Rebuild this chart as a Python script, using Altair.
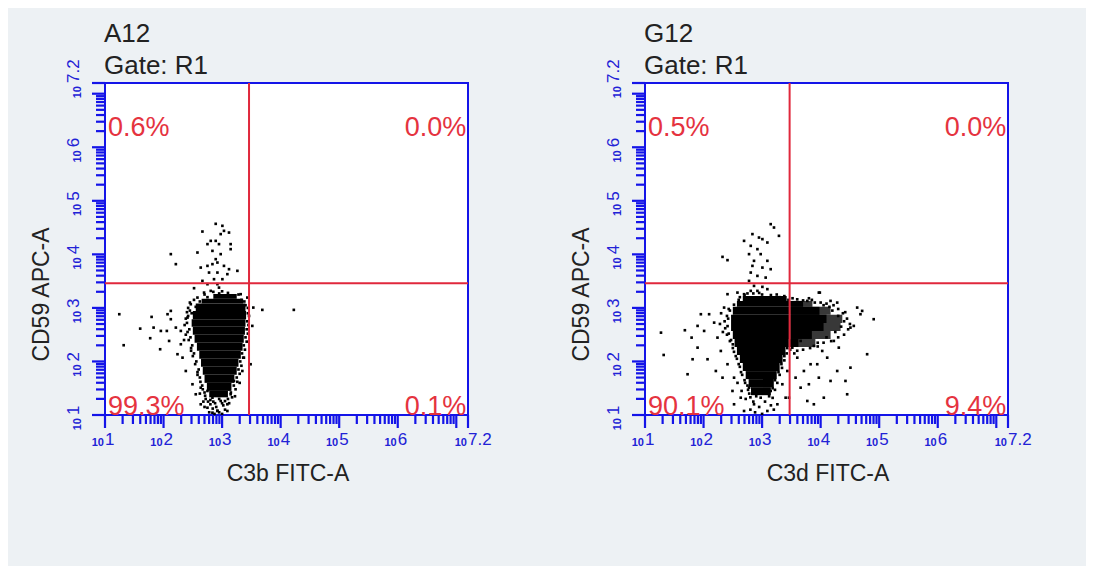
import altair as alt
import pandas as pd
import numpy as np

BG = "#edf1f4"
BLUE = "#1414e8"
LBLUE = "#2222d6"
RED = "#e0283c"
PRED = "#e5333f"
DARK = "#222222"
FONT = "Liberation Sans"

W, H = 363, 332
DOMAIN = [1, 7.2]

# ---- text content ----
sample_names = ["A12", "G12"]
gate_label = "Gate: R1"
x_titles = ["C3b FITC-A", "C3d FITC-A"]
y_title = "CD59 APC-A"
pct_ul = ["0.6%", "0.5%"]
pct_ur = ["0.0%", "0.0%"]
pct_ll = ["99.3%", "90.1%"]
pct_lr = ["0.1%", "9.4%"]

# quadrant gates (log10 units)
gate_x = [3.46, 3.47]
gate_y = [3.46, 3.46]

# axis scaffolding (log10 decades)
decades = [1, 2, 3, 4, 5, 6, 7]
minor_mult = [2, 3, 4, 5, 6, 7, 8, 9]
axis_end = 7.2
label_pos = [1, 2, 3, 4, 5, 6, 7.2]
label_exp = ["1", "2", "3", "4", "5", "6", "7.2"]

# ---- dense cores (rows: y0, y1, x0, x1 in log10 units) ----
core1 = [
    (3.17, 3.26, 2.85, 3.25),
    (3.08, 3.17, 2.65, 3.36),
    (2.94, 3.08, 2.55, 3.40),
    (2.79, 2.94, 2.50, 3.41),
    (2.65, 2.79, 2.48, 3.40),
    (2.50, 2.65, 2.50, 3.39),
    (2.35, 2.50, 2.53, 3.37),
    (2.20, 2.35, 2.57, 3.35),
    (2.05, 2.20, 2.61, 3.32),
    (1.90, 2.05, 2.64, 3.28),
    (1.75, 1.90, 2.67, 3.25),
    (1.60, 1.75, 2.70, 3.21),
    (1.45, 1.60, 2.74, 3.16),
    (1.33, 1.45, 2.78, 3.10),
]
core2 = [
    (3.13, 3.22, 2.67, 3.42),
    (3.02, 3.13, 2.57, 3.49),
    (2.87, 3.02, 2.50, 3.49),
    (2.72, 2.87, 2.47, 3.49),
    (2.57, 2.72, 2.47, 3.49),
    (2.42, 2.57, 2.50, 3.49),
    (2.27, 2.42, 2.53, 3.45),
    (2.12, 2.27, 2.57, 3.40),
    (1.97, 2.12, 2.62, 3.35),
    (1.82, 1.97, 2.67, 3.30),
    (1.67, 1.82, 2.72, 3.25),
    (1.52, 1.67, 2.77, 3.20),
    (1.37, 1.52, 2.81, 3.15),
]
lobe2_light = [
    (3.02, 3.13, 3.49, 3.86),
    (2.87, 3.02, 3.49, 4.17),
    (2.72, 2.87, 3.49, 4.37),
    (2.57, 2.72, 3.49, 4.34),
    (2.42, 2.57, 3.49, 4.17),
    (2.27, 2.42, 3.45, 3.91),
]
lobe2_dense = [
    (3.02, 3.13, 3.49, 3.70),
    (2.87, 3.02, 3.49, 3.98),
    (2.72, 2.87, 3.49, 4.10),
    (2.57, 2.72, 3.49, 4.05),
    (2.42, 2.57, 3.49, 3.85),
    (2.27, 2.42, 3.45, 3.62),
]

# ---- individual events (x, y in log10 units) ----
dots1 = [
    (2.891, 4.570), (3.005, 4.533), (3.032, 4.439), (2.664, 4.426), (2.976, 4.378),
    (3.118, 4.407), (2.806, 4.252), (2.891, 4.252), (2.750, 4.191), (2.947, 4.191),
    (3.146, 4.191), (3.146, 4.097), (2.835, 4.065), (2.976, 4.004), (2.579, 4.034),
    (2.124, 4.004), (2.210, 3.817), (2.891, 3.910), (2.920, 3.847), (2.835, 3.817),
    (2.750, 3.785), (3.032, 3.785), (3.118, 3.723), (3.261, 3.692), (2.777, 3.660),
    (2.635, 3.753), (2.920, 3.660), (3.090, 3.630), (2.862, 3.536), (3.005, 3.536),
    (2.664, 3.505), (2.920, 3.443), (2.750, 3.443), (2.521, 3.368), (2.947, 3.379),
    (2.806, 3.318),
    (1.244, 2.882), (1.319, 2.303), (1.601, 2.613), (1.796, 2.832), (1.772, 2.434),
    (1.830, 2.632), (1.942, 2.228), (1.954, 2.570), (2.056, 2.570), (2.068, 2.882),
    (2.124, 2.789), (2.095, 2.383), (2.210, 2.632), (2.238, 2.135), (2.124, 2.944),
    (2.295, 2.321), (2.324, 2.071), (2.380, 1.822), (2.494, 1.574), (2.550, 1.387),
    (2.635, 1.200), (2.750, 1.136), (2.920, 1.075), (3.090, 1.075), (2.976, 1.262),
    (2.835, 1.323), (3.146, 1.387), (3.203, 1.636), (3.346, 1.822), (3.373, 2.071),
    (3.487, 1.948), (3.516, 2.664), (3.533, 3.006), (3.687, 2.963), (4.225, 2.963),
    (3.431, 3.193), (3.317, 3.256), (2.692, 3.286), (2.579, 3.193), (2.465, 3.069),
    (2.409, 2.819), (2.295, 2.570), (2.635, 1.510), (2.750, 1.449), (3.090, 1.200),
    (2.835, 1.043),
    (2.45, 2.95), (2.42, 2.85), (2.40, 2.72), (2.44, 2.60), (2.46, 2.45), (2.49, 2.30),
    (2.52, 2.15), (2.56, 2.00), (2.60, 1.85), (2.62, 1.70), (2.66, 1.55), (2.70, 1.42),
    (2.72, 1.30), (2.68, 1.25), (2.80, 1.20), (2.90, 1.15), (3.00, 1.22), (3.05, 1.10),
    (2.95, 1.05), (2.85, 1.25), (3.10, 1.30), (3.15, 1.42), (3.20, 1.55), (3.25, 1.70),
    (3.28, 1.85), (3.31, 2.00), (3.34, 2.15), (3.37, 2.30), (3.40, 2.45), (3.42, 2.60),
    (3.43, 2.75), (3.44, 2.90), (3.40, 3.05), (3.33, 3.15), (3.20, 3.22), (3.10, 3.28),
    (2.95, 3.27), (2.75, 3.20), (2.62, 3.12), (2.55, 3.02), (2.48, 2.90), (2.38, 2.50),
    (2.35, 2.40), (2.58, 1.75), (2.62, 1.40), (3.22, 1.35), (3.30, 1.60), (2.47, 2.20),
    (2.80, 1.28), (2.88, 1.22), (2.95, 1.30), (3.02, 1.18), (2.84, 1.12), (2.92, 1.08),
    (3.00, 1.02), (2.78, 1.05), (3.05, 1.26), (2.70, 1.15), (2.96, 1.38), (2.87, 1.02),
    (2.42, 3.00), (2.45, 3.10), (2.52, 3.15), (2.40, 2.92), (2.38, 2.80), (2.36, 2.68),
    (2.41, 2.55), (2.43, 2.40), (2.47, 2.25), (2.50, 2.10), (2.54, 1.95), (2.58, 1.80),
    (2.63, 1.62), (2.67, 1.48), (2.71, 1.36), (2.76, 1.25), (3.12, 1.22), (3.17, 1.33),
    (3.23, 1.48), (3.26, 1.62), (3.30, 1.77), (3.33, 1.92), (3.36, 2.07), (3.39, 2.22),
    (3.42, 2.37), (3.44, 2.52), (3.45, 2.68), (3.46, 2.85), (3.44, 3.00), (3.38, 3.12),
    (3.28, 3.25), (2.85, 3.30), (3.00, 3.31), (2.70, 3.25),
]
dots2 = [
    (3.147, 4.564), (3.288, 4.346), (3.203, 4.501), (2.835, 4.378), (2.947, 4.314),
    (3.005, 4.284), (2.692, 4.252), (3.090, 4.221), (2.806, 4.159), (2.920, 4.097),
    (2.976, 4.004), (2.324, 3.953), (2.409, 3.892), (2.777, 4.004), (2.862, 3.879),
    (3.090, 3.879), (2.835, 3.785), (3.005, 3.753), (3.147, 3.723), (2.806, 3.660),
    (2.920, 3.598), (3.061, 3.566), (2.777, 3.505), (2.862, 3.411), (3.005, 3.393),
    (2.806, 3.318), (2.692, 3.256), (2.920, 3.318), (3.090, 3.350), (3.986, 3.286),
    (3.772, 3.131), (4.169, 3.131), (4.283, 3.099), (4.624, 3.006), (4.680, 2.882),
    (4.906, 2.789), (4.509, 2.632), (4.794, 2.135),
    (1.273, 2.538), (1.319, 2.121), (1.681, 2.583), (1.727, 1.761), (1.796, 2.445),
    (1.813, 2.041), (1.898, 2.664), (1.898, 2.258), (1.954, 2.882), (2.010, 2.570),
    (2.068, 2.041), (2.095, 2.882), (2.181, 2.725), (2.210, 1.822), (2.238, 2.445),
    (2.295, 2.196), (2.324, 1.697), (2.351, 3.006), (2.409, 3.256), (2.409, 1.948),
    (2.494, 1.449), (2.521, 1.697), (2.579, 3.286), (2.521, 1.200), (2.635, 1.323),
    (2.692, 1.075), (2.777, 1.510), (2.862, 1.200), (2.976, 1.323), (3.090, 1.075),
    (3.147, 1.449), (3.261, 1.200), (3.346, 1.574), (3.402, 1.323),
    (3.516, 2.258), (3.601, 2.071), (3.714, 1.822), (3.799, 1.574), (3.884, 1.200),
    (3.772, 1.262), (3.658, 1.510), (3.942, 1.948), (4.027, 2.196), (4.112, 2.071),
    (4.054, 1.323), (4.225, 2.383), (4.283, 1.822), (4.424, 1.636), (4.453, 1.387),
    (4.310, 2.258), (4.509, 1.884), (4.709, 2.944), (4.566, 2.664), (3.572, 1.697),
    (3.828, 1.948), (3.969, 1.697), (4.169, 1.636), (3.658, 2.383), (3.884, 2.290),
    (3.431, 1.822), (3.458, 1.323), (3.772, 2.570), (3.969, 3.286),
    (4.40, 2.75), (4.30, 2.85), (4.20, 2.95), (4.35, 2.65), (4.25, 2.55), (4.10, 2.45),
    (3.95, 2.35), (4.45, 2.80), (4.50, 2.70), (4.05, 3.05), (3.90, 3.10), (3.80, 3.18),
    (4.15, 3.02), (4.38, 2.90),
    (2.45, 2.95), (2.40, 2.85), (2.36, 2.75), (2.37, 2.62), (2.40, 2.50), (2.45, 2.38),
    (2.50, 2.25), (2.55, 2.10), (2.60, 1.95), (2.64, 1.80), (2.70, 1.65), (2.75, 1.55),
    (2.78, 1.40), (2.72, 1.30), (2.85, 1.25), (2.95, 1.15), (3.05, 1.25), (3.12, 1.35),
    (3.18, 1.50), (3.22, 1.65), (3.28, 1.80), (3.33, 1.95), (3.38, 2.10), (3.43, 2.25),
    (2.60, 3.15), (2.70, 3.24), (2.85, 3.27), (3.00, 3.25), (3.15, 3.24), (3.30, 3.20),
    (3.45, 3.15), (2.52, 3.06), (2.30, 2.90), (2.28, 2.70), (2.33, 2.55), (2.88, 1.05),
    (3.00, 1.02), (2.80, 1.10), (3.20, 1.10), (3.08, 1.45), (2.90, 1.35), (3.15, 1.18),
    (2.65, 1.45), (2.58, 1.60),
    (2.43, 2.98), (2.42, 2.80), (2.41, 2.66), (2.43, 2.52), (2.47, 2.40), (2.50, 2.32),
    (2.52, 2.18), (2.57, 2.05), (2.62, 1.90), (2.66, 1.75), (2.71, 1.60), (2.76, 1.47),
    (2.80, 1.33), (3.18, 1.32), (3.22, 1.47), (3.26, 1.60), (3.30, 1.75), (3.34, 1.88),
    (3.38, 2.02), (3.42, 2.15), (3.48, 2.22), (2.62, 3.20), (2.75, 3.27), (2.95, 3.28),
    (3.25, 3.25), (3.38, 3.22), (3.52, 3.18), (3.60, 3.16), (3.70, 3.14), (3.85, 3.15),
    (4.00, 3.10), (4.10, 3.08), (4.22, 3.05), (4.30, 2.98), (4.42, 2.92), (4.47, 2.60),
    (4.40, 2.50), (4.30, 2.45), (4.18, 2.38), (4.05, 2.35), (3.95, 2.28), (3.82, 2.25),
    (3.70, 2.22), (3.60, 2.20), (3.55, 2.15),
]

# ---- tables ----
major_ticks = pd.DataFrame({"t": decades + [axis_end]})
minor_ticks = pd.DataFrame({"t": [d + np.log10(m) for d in decades for m in minor_mult
                                  if d + np.log10(m) <= axis_end]})
labels_df = pd.DataFrame({"v": label_pos, "e": label_exp})
one_row = pd.DataFrame({"k": [0]})


def rows_df(rows):
    return pd.DataFrame(rows, columns=["y0", "y1", "x0", "x1"])


def dots_df(pts):
    return pd.DataFrame(pts, columns=["x", "y"])


def panel(i, core, dots, lobe_light=None, lobe_dense=None, pad_rect=None):
    xs = alt.Scale(domain=DOMAIN, nice=False, zero=False)
    ys = alt.Scale(domain=DOMAIN, nice=False, zero=False)
    ax = alt.Axis(title=x_titles[i], labels=False, ticks=False, domain=False, grid=False,
                  titleFont=FONT, titleFontSize=23, titleFontWeight="normal",
                  titleColor=DARK, titleX=W / 2 + 1, titleY=65,
                  titleAlign="center", titleBaseline="alphabetic")
    ay = alt.Axis(title=y_title, labels=False, ticks=False, domain=False, grid=False,
                  titleFont=FONT, titleFontSize=23, titleFontWeight="normal",
                  titleColor=DARK, titleX=-64, titleY=211, titleAngle=270,
                  titleAlign="center", titleBaseline="middle")

    def X(f):
        return alt.X(f, type="quantitative", scale=xs, axis=ax)

    def Y(f):
        return alt.Y(f, type="quantitative", scale=ys, axis=ay)

    layers = []
    if pad_rect is not None:
        x0, x1, y0, y1 = pad_rect
        layers.append(alt.Chart(one_row).mark_rect(color=BG).encode(
            x=alt.value(x0), x2=alt.value(x1), y=alt.value(y0), y2=alt.value(y1)))

    layers.append(alt.Chart(rows_df(core)).mark_rect(color="black").encode(
        x=X("x0"), x2="x1", y=Y("y0"), y2="y1"))
    if lobe_light is not None:
        layers.append(alt.Chart(rows_df(lobe_light)).mark_rect(color="black", opacity=0.78).encode(
            x=X("x0"), x2="x1", y=Y("y0"), y2="y1"))
    if lobe_dense is not None:
        layers.append(alt.Chart(rows_df(lobe_dense)).mark_rect(color="black").encode(
            x=X("x0"), x2="x1", y=Y("y0"), y2="y1"))
    layers.append(alt.Chart(dots_df(dots)).mark_square(size=7, color="black", opacity=1).encode(
        x=X("x"), y=Y("y")))

    # quadrant gates
    layers.append(alt.Chart(pd.DataFrame({"gx": [gate_x[i]]})).mark_rule(
        color=RED, strokeWidth=2).encode(x=X("gx")))
    layers.append(alt.Chart(pd.DataFrame({"gy": [gate_y[i]]})).mark_rule(
        color=RED, strokeWidth=2).encode(y=Y("gy")))

    # quadrant percentages
    left_pct = pd.DataFrame({"x": [1.05, 1.05], "y": [6.21, 1.0], "t": [pct_ul[i], pct_ll[i]]})
    right_pct = pd.DataFrame({"x": [7.17, 7.17], "y": [6.21, 1.0], "t": [pct_ur[i], pct_lr[i]]})
    layers.append(alt.Chart(left_pct).mark_text(
        align="left", baseline="alphabetic", font=FONT, fontSize=27, color=PRED).encode(
        x=X("x"), y=Y("y"), text="t:N"))
    layers.append(alt.Chart(right_pct).mark_text(
        align="right", baseline="alphabetic", font=FONT, fontSize=27, color=PRED).encode(
        x=X("x"), y=Y("y"), text="t:N"))

    # axis ticks (drawn outside the plot area)
    layers.append(alt.Chart(major_ticks).mark_rule(color=BLUE, strokeWidth=2.2).encode(
        x=X("t"), y=alt.value(H), y2=alt.value(H + 13)))
    layers.append(alt.Chart(minor_ticks).mark_rule(color=BLUE, strokeWidth=2.2).encode(
        x=X("t"), y=alt.value(H), y2=alt.value(H + 9)))
    layers.append(alt.Chart(major_ticks).mark_rule(color=BLUE, strokeWidth=2.2).encode(
        y=Y("t"), x=alt.value(0), x2=alt.value(-13)))
    layers.append(alt.Chart(minor_ticks).mark_rule(color=BLUE, strokeWidth=2.2).encode(
        y=Y("t"), x=alt.value(0), x2=alt.value(-9)))

    # tick labels: small "10" + large exponent
    layers.append(alt.Chart(labels_df).mark_text(
        align="right", baseline="alphabetic", dx=-1, font=FONT, fontSize=11,
        fontWeight="bold", color=LBLUE).encode(
        x=X("v"), y=alt.value(H + 31), text=alt.value("10")))
    layers.append(alt.Chart(labels_df).mark_text(
        align="left", baseline="alphabetic", dx=0, dy=-1, font=FONT, fontSize=17,
        color=LBLUE).encode(
        x=X("v"), y=alt.value(H + 31), text="e:N"))
    layers.append(alt.Chart(labels_df).mark_text(
        angle=270, align="right", baseline="alphabetic", dx=-3, font=FONT, fontSize=11,
        fontWeight="bold", color=LBLUE).encode(
        y=Y("v"), x=alt.value(-24), text=alt.value("10")))
    layers.append(alt.Chart(labels_df).mark_text(
        angle=270, align="left", baseline="alphabetic", dx=0, dy=-2, font=FONT, fontSize=17,
        color=LBLUE).encode(
        y=Y("v"), x=alt.value(-24), text="e:N"))

    # header text
    layers.append(alt.Chart(one_row).mark_text(
        align="left", baseline="alphabetic", font=FONT, fontSize=26, color=DARK).encode(
        x=alt.value(-1), y=alt.value(-41), text=alt.value(sample_names[i])))
    layers.append(alt.Chart(one_row).mark_text(
        align="left", baseline="alphabetic", font=FONT, fontSize=26, color=DARK).encode(
        x=alt.value(-1), y=alt.value(-9), text=alt.value(gate_label)))

    return alt.layer(*layers).properties(width=W, height=H)


p1 = panel(0, core1, dots1, pad_rect=(-96, -95, -74, -73))
p2 = panel(1, core2, dots2, lobe_light=lobe2_light, lobe_dense=lobe2_dense,
           pad_rect=(439, 440, 481, 482))

chart = alt.hconcat(p1, p2, spacing=177, bounds="flush").properties(
    padding=0
).configure(
    background=BG
).configure_view(
    stroke=BLUE, strokeWidth=2, fill="white"
)

chart.save("out.html", embed_options={"renderer": "svg", "actions": False})
